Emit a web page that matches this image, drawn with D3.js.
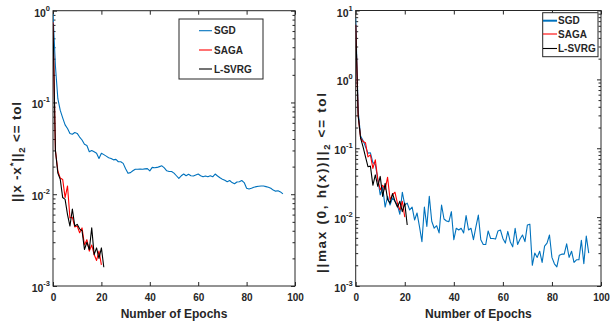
<!DOCTYPE html>
<html>
<head>
<meta charset="utf-8">
<script src="https://cdn.jsdelivr.net/npm/d3@7"></script>
<style>
  body { margin: 0; background: #fff; }
  text { font-family: "Liberation Sans", Arial, sans-serif; font-weight: bold; fill: #262626; }
</style>
</head>
<body>
<div id="chart"></div>
<script>
// Convergence of SGD / SAGA / L-SVRG, values read per epoch (index = epoch)

const seriesNames  = ["SGD", "SAGA", "L-SVRG"];
const seriesColors = ["#0072bd", "#ff0000", "#000000"];
const epochTicks   = [0, 20, 40, 60, 80, 100];

// left panel: ||x - x*||_2
const leftSGD = [0.92, 0.25, 0.11, 0.082, 0.068, 0.057, 0.052, 0.046, 0.045, 0.047,
  0.046, 0.042, 0.039, 0.035, 0.034, 0.029, 0.030, 0.029, 0.028, 0.0245,
  0.028, 0.027, 0.026, 0.025, 0.0245, 0.0237, 0.024, 0.0226, 0.0226, 0.0217,
  0.019, 0.0169, 0.0172, 0.018, 0.0187, 0.0187, 0.0188, 0.0187, 0.0189, 0.019,
  0.018, 0.0196, 0.0194, 0.0196, 0.020, 0.0204, 0.0194, 0.0180, 0.0177, 0.0177,
  0.0170, 0.0159, 0.0149, 0.0159, 0.0166, 0.0159, 0.0165, 0.0159, 0.0158, 0.0162,
  0.0166, 0.0159, 0.0155, 0.0158, 0.0155, 0.0159, 0.0155, 0.0166, 0.0158, 0.0151,
  0.0146, 0.0142, 0.0137, 0.0141, 0.0134, 0.0130, 0.0136, 0.0137, 0.0141, 0.0134,
  0.0116, 0.0114, 0.0116, 0.0119, 0.0121, 0.0122, 0.0123, 0.0123, 0.0121, 0.0119,
  0.0116, 0.0111, 0.0108, 0.0109, 0.0106, 0.0101];
const leftSAGA = [0.75, 0.03, 0.018, 0.015, 0.0145, 0.0092, 0.0123, 0.0055, 0.0056, 0.0044,
  0.0045, 0.0038, 0.0043, 0.0028, 0.0032, 0.0024, 0.0028, 0.0022, 0.0019, 0.0024, 0.0017];
const leftLSVRG = [0.72, 0.03, 0.017, 0.0145, 0.0092, 0.0088, 0.0060, 0.0045, 0.0069, 0.0045,
  0.0047, 0.0042, 0.0040, 0.0025, 0.0030, 0.0025, 0.0043, 0.0022, 0.0026, 0.0020, 0.0026, 0.0016];

// right panel: ||max(0, h(x))||_2
const rightSGD = [7.7, 0.35, 0.15, 0.13, 0.105, 0.085, 0.086, 0.062, 0.058, 0.036,
  0.021, 0.027, 0.014, 0.020, 0.015, 0.019, 0.017, 0.015, 0.011, 0.023,
  0.015, 0.016, 0.0127, 0.014, 0.0091, 0.0115, 0.0073, 0.0044, 0.014, 0.0073,
  0.020, 0.0087, 0.0069, 0.0075, 0.0059, 0.015, 0.0094, 0.0088, 0.0086, 0.012,
  0.0047, 0.0069, 0.0065, 0.0069, 0.0059, 0.0105, 0.0065, 0.0069, 0.0047, 0.0072,
  0.0107, 0.0047, 0.0040, 0.0040, 0.0063, 0.0049, 0.0049, 0.0048, 0.0063, 0.0065,
  0.0049, 0.0042, 0.0062, 0.0044, 0.0037, 0.0069, 0.0040, 0.0048, 0.0055, 0.0044,
  0.0077, 0.0079, 0.0020, 0.0030, 0.0026, 0.0032, 0.0022, 0.0038, 0.0042, 0.0055,
  0.0026, 0.0021, 0.0019, 0.0028, 0.0029, 0.0029, 0.0041, 0.0026, 0.0032, 0.0022,
  0.0024, 0.0024, 0.0046, 0.0021, 0.0053, 0.0030];
const rightSAGA = [6.2, 0.3, 0.14, 0.125, 0.12, 0.075, 0.08, 0.051, 0.068, 0.035,
  0.025, 0.029, 0.025, 0.038, 0.018, 0.021, 0.023, 0.016, 0.0127, 0.017, 0.010];
const rightLSVRG = [6.2, 0.3, 0.14, 0.105, 0.075, 0.054, 0.055, 0.029, 0.041, 0.028,
  0.039, 0.020, 0.031, 0.018, 0.016, 0.022, 0.017, 0.014, 0.017, 0.012, 0.016, 0.0077];

const W = 610, H = 323;
let svg = d3.select("#chart").append("svg").attr("width", W).attr("height", H);

function drawPanel(p) {
  let x = d3.scaleLinear().domain([0, 100]).range([p.left, p.right]);
  let y = d3.scaleLog().domain(p.yDomain).range([p.bottom, p.top]);
  let g = svg.append("g");

  let clipId = "clip" + p.id;
  g.append("clipPath").attr("id", clipId)
    .append("rect")
    .attr("x", p.left).attr("y", p.top)
    .attr("width", p.right - p.left).attr("height", p.bottom - p.top);

  // log ticks: majors at decades, minors at 2..9
  let lo = Math.round(Math.log10(p.yDomain[0])), hi = Math.round(Math.log10(p.yDomain[1]));
  let majors = d3.range(lo, hi + 1).map(e => Math.pow(10, e));
  let minors = [];
  d3.range(lo, hi).forEach(e => { for (let k = 2; k <= 9; k++) minors.push(k * Math.pow(10, e)); });

  function tickAxis(axis, tx, ty) {
    g.append("g").attr("transform", "translate(" + tx + "," + ty + ")")
      .call(axis)
      .call(s => s.select(".domain").remove())
      .call(s => s.selectAll("line").attr("stroke", "#262626"));
  }

  let xb = d3.axisBottom(x).tickValues(epochTicks).tickSize(-4).tickPadding(8);
  g.append("g").attr("transform", "translate(0," + p.bottom + ")")
    .call(xb)
    .call(s => s.select(".domain").remove())
    .call(s => s.selectAll("line").attr("stroke", "#262626"))
    .call(s => s.selectAll("text")
      .style("font-family", "'Liberation Sans', Arial, sans-serif")
      .style("font-weight", "bold").attr("font-size", 10).attr("fill", "#262626"));
  tickAxis(d3.axisTop(x).tickValues(epochTicks).tickSize(-4).tickFormat(""), 0, p.top);
  tickAxis(d3.axisLeft(y).tickValues(majors).tickSize(-4).tickFormat(""), p.left, 0);
  tickAxis(d3.axisLeft(y).tickValues(minors).tickSize(-2.5).tickFormat(""), p.left, 0);
  tickAxis(d3.axisRight(y).tickValues(majors).tickSize(-4).tickFormat(""), p.right, 0);
  tickAxis(d3.axisRight(y).tickValues(minors).tickSize(-2.5).tickFormat(""), p.right, 0);

  // 10^n labels
  majors.forEach(v => {
    let e = Math.round(Math.log10(v));
    let t = g.append("text")
      .attr("x", p.left - 3).attr("y", y(v) + 6)
      .attr("text-anchor", "end").attr("font-size", 10.5);
    t.append("tspan").text("10");
    t.append("tspan").attr("dy", -6).attr("font-size", 7.5).text(e);
  });

  // box
  g.append("rect")
    .attr("x", p.left).attr("y", p.top)
    .attr("width", p.right - p.left).attr("height", p.bottom - p.top)
    .attr("fill", "none").attr("stroke", "#262626").attr("stroke-width", 1);

  // series
  let line = d3.line().x((d, i) => x(i)).y(d => y(d));
  p.series.forEach((data, k) => {
    g.append("path")
      .datum(data)
      .attr("clip-path", "url(#" + clipId + ")")
      .attr("d", line)
      .attr("fill", "none")
      .attr("stroke", seriesColors[k])
      .attr("stroke-width", 1.1)
      .attr("stroke-linejoin", "round");
  });

  // x label
  g.append("text")
    .attr("x", (p.left + p.right) / 2).attr("y", 318)
    .attr("text-anchor", "middle").attr("font-size", 12)
    .text("Number of Epochs");

  // y label with sub/superscripts
  let yl = g.append("text")
    .attr("transform", "translate(" + p.ylab.x + "," + p.ylab.y + ") rotate(-90)")
    .attr("text-anchor", "middle").attr("font-size", 13.5)
    .attr("textLength", p.ylab.len).attr("lengthAdjust", "spacing");
  let shift = 0;
  p.ylab.parts.forEach(part => {
    let target = part[1] === "sup" ? -5.5 : part[1] === "sub" ? 3.5 : 0;
    let ts = yl.append("tspan").attr("dy", target - shift).text(part[0]);
    if (part[1]) ts.attr("font-size", 9.5);
    shift = target;
  });

  // legend
  let L = p.legend;
  g.append("rect")
    .attr("x", L.x).attr("y", L.y).attr("width", L.w).attr("height", L.h)
    .attr("fill", "#fff").attr("stroke", "#262626").attr("stroke-width", 1);
  seriesNames.forEach((name, k) => {
    let ry = L.rows[k];
    g.append("line")
      .attr("x1", L.lx0).attr("x2", L.lx1).attr("y1", ry).attr("y2", ry)
      .attr("stroke", seriesColors[k]).attr("stroke-width", k === 0 && p.id === "R" ? 2 : 1.1);
    g.append("text")
      .attr("x", L.tx).attr("y", ry + 3.6)
      .attr("font-size", 10).text(name);
  });
}

drawPanel({
  id: "L", left: 53, right: 295, top: 10.7, bottom: 286, yDomain: [1e-3, 1],
  series: [leftSGD, leftSAGA, leftLSVRG],
  ylab: { x: 21, y: 152, len: 100,
    parts: [["||x -x", null], ["*", "sup"], ["||", null], ["2", "sub"], [" <= tol", null]] },
  legend: { x: 179, y: 19, w: 84, h: 60, rows: [30.7, 50, 69], lx0: 199, lx1: 212, tx: 214 }
});

drawPanel({
  id: "R", left: 355.7, right: 601, top: 10.5, bottom: 286, yDomain: [1e-3, 10],
  series: [rightSGD, rightSAGA, rightLSVRG],
  ylab: { x: 326, y: 183, len: 180,
    parts: [["||max (0, h(x))||", null], ["2", "sub"], [" <= tol", null]] },
  legend: { x: 542.7, y: 12.7, w: 55.3, h: 44, rows: [20.7, 34, 48.5], lx0: 543, lx1: 557, tx: 558 }
});
</script>
</body>
</html>
